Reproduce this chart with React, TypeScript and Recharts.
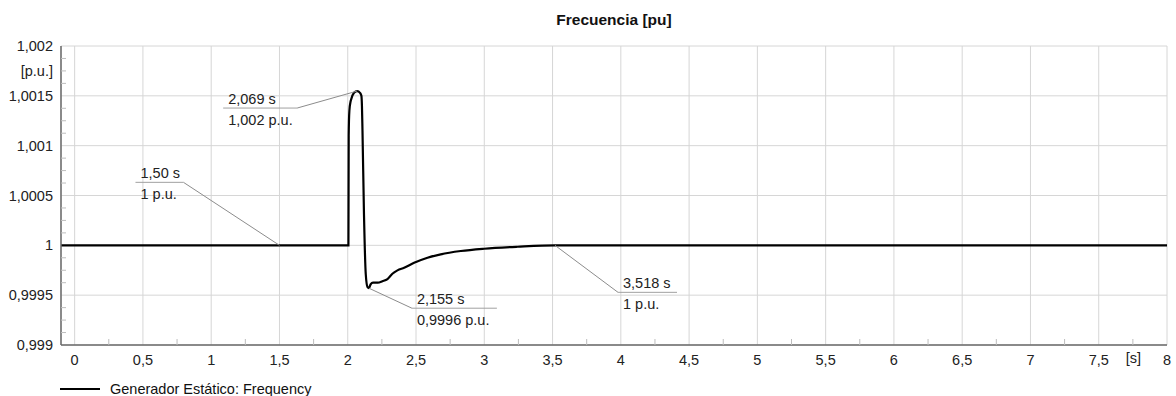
import React from 'react';
import { ComposedChart, Line, XAxis, YAxis, CartesianGrid, ReferenceDot, Legend } from 'recharts';

// ---- data ----
const timeS = [
  -0.1, 1.5, 2.0, 2.005, 2.007, 2.012, 2.022, 2.046, 2.069, 2.09, 2.1, 2.104, 2.108, 2.119, 2.132,
  2.145, 2.155, 2.168, 2.185, 2.22, 2.254, 2.291, 2.327, 2.364, 2.413, 2.486, 2.584, 2.681,
  2.828, 2.999, 3.243, 3.518, 5.0, 8.0,
];
const freqPu = [
  1.0, 1.0, 1.0, 1.0, 1.0011, 1.00135, 1.00145, 1.00153, 1.001548, 1.00153, 1.0015, 1.0014, 1.00115,
  1.00031, 0.99971, 0.99958, 0.99957, 0.99961, 0.999625, 0.999625, 0.99964, 0.999662, 0.999715,
  0.999749, 0.999775, 0.999825, 0.999876, 0.99991, 0.999943, 0.999966, 0.999986, 1.0, 1.0, 1.0,
];
const data = timeS.map((t, i) => ({ t, f: freqPu[i] }));

const xMajorTicks = [0, 0.5, 1, 1.5, 2, 2.5, 3, 3.5, 4, 4.5, 5, 5.5, 6, 6.5, 7, 7.5, 8];
const xMinorTicks = [0.25, 0.75, 1.25, 1.75, 2.25, 2.75, 3.25, 3.75, 4.25, 4.75, 5.25, 5.75, 6.25, 6.75, 7.25, 7.75];
const yMajorTicks = [0.999, 0.9995, 1, 1.0005, 1.001, 1.0015, 1.002];
const yMinorTicks = [
  0.999125, 0.99925, 0.999375, 0.999625, 0.99975, 0.999875, 1.000125, 1.00025, 1.000375,
  1.000625, 1.00075, 1.000875, 1.001125, 1.00125, 1.001375, 1.001625, 1.00175, 1.001875,
];

const annTimes = [1.5, 2.069, 2.155, 3.518];
const annValues = [1.0, 1.001548, 0.99957, 1.0];
const annTopLabels = ['1,50 s', '2,069 s', '2,155 s', '3,518 s'];
const annBottomLabels = ['1 p.u.', '1,002 p.u.', '0,9996 p.u.', '1 p.u.'];

// callout geometry (layout only)
const annLayout = [
  { dx: -96, dy: -63, len: 48, dir: -1 },
  { dx: -60, dy: 17, len: 74, dir: -1 },
  { dx: 43, dy: 20, len: 85, dir: 1 },
  { dx: 63, dy: 47, len: 59, dir: 1 },
];

const FONT = '"Liberation Sans", Arial, sans-serif';
const fmt = (v: number) => String(v).replace('.', ',');

const Callout = (props: any) => {
  const { cx, cy, idx } = props;
  if (cx == null || cy == null) return null;
  const L = annLayout[idx];
  const jx = cx + L.dx;
  const jy = cy + L.dy;
  const left = L.dir < 0 ? jx - L.len : jx;
  const right = L.dir < 0 ? jx : jx + L.len;
  return (
    <g>
      <line x1={cx} y1={cy} x2={jx} y2={jy} stroke="#8c8c8c" strokeWidth={1} />
      <line x1={left} y1={jy} x2={right} y2={jy} stroke="#a0a0a0" strokeWidth={1} />
      <text x={left + 5} y={jy - 4} fontSize={14.5} fontFamily={FONT} fill="#222">{annTopLabels[idx]}</text>
      <text x={left + 5} y={jy + 16.5} fontSize={14.5} fontFamily={FONT} fill="#222">{annBottomLabels[idx]}</text>
    </g>
  );
};

const LegendContent = () => (
  <div style={{ display: 'flex', alignItems: 'center', fontFamily: FONT, fontSize: 14.5, color: '#111' }}>
    <svg width={42} height={12} style={{ display: 'block' }}>
      <line x1={1} y1={6} x2={41} y2={6} stroke="#000" strokeWidth={2} />
    </svg>
    <span style={{ marginLeft: 9, whiteSpace: 'nowrap' }}>Generador Estático: Frequency</span>
  </div>
);

export default function App() {
  return (
    <div style={{ position: 'absolute', left: 0, top: 0, width: 1176, height: 396, background: '#fff' }}>
      <div
        style={{
          position: 'absolute', left: 61, top: 11, width: 1106, textAlign: 'center',
          fontFamily: FONT, fontWeight: 'bold', fontSize: 15.5, color: '#111',
        }}
      >
        Frecuencia [pu]
      </div>
      <ComposedChart
        width={1176}
        height={396}
        data={data}
        margin={{ top: 46, right: 9, bottom: 31, left: 0 }}
        style={{ fontFamily: FONT }}
      >
        <CartesianGrid stroke="#d6d6d6" strokeWidth={1} />
        <XAxis
          dataKey="t"
          type="number"
          domain={[-0.1, 8]}
          allowDataOverflow
          ticks={xMajorTicks}
          interval={0}
          tickFormatter={fmt}
          tickLine={false}
          tickSize={6}
          tickMargin={4}
          height={20}
          axisLine={{ stroke: '#6a6a6a', strokeWidth: 1.5 }}
          tick={{ fill: '#222', fontSize: 14.5, fontFamily: FONT }}
          label={{ value: '[s]', position: 'insideRight', offset: 26, dy: 3, fill: '#222', fontSize: 14.5, fontFamily: FONT }}
        />
        <XAxis
          xAxisId="minor"
          dataKey="t"
          type="number"
          domain={[-0.1, 8]}
          allowDataOverflow
          ticks={xMinorTicks}
          interval={0}
          mirror
          axisLine={false}
          tickSize={6}
          tickLine={{ stroke: '#bdbdbd' }}
          tickFormatter={() => ''}
          height={20}
        />
        <YAxis
          type="number"
          domain={[0.999, 1.002]}
          allowDataOverflow
          ticks={yMajorTicks}
          interval={0}
          tickFormatter={fmt}
          width={61}
          tickLine={false}
          tickSize={6}
          tickMargin={2}
          axisLine={{ stroke: '#6a6a6a', strokeWidth: 1.5 }}
          tick={{ fill: '#222', fontSize: 14.5, fontFamily: FONT }}
          label={{ value: '[p.u.]', position: 'insideTopRight', offset: 8, dy: 12, fill: '#222', fontSize: 14.5, fontFamily: FONT }}
        />
        <YAxis
          yAxisId="minor"
          type="number"
          domain={[0.999, 1.002]}
          allowDataOverflow
          ticks={yMinorTicks}
          interval={0}
          mirror
          axisLine={false}
          tickSize={5}
          tickLine={{ stroke: '#bdbdbd' }}
          tickFormatter={() => ''}
          width={61}
        />
        <Line
          type="monotone"
          dataKey="f"
          stroke="#000"
          strokeWidth={2.2}
          dot={false}
          activeDot={false}
          isAnimationActive={false}
          name="Generador Estático: Frequency"
        />
        {annTimes.map((t, i) => (
          <ReferenceDot
            key={i}
            x={t}
            y={annValues[i]}
            r={0}
            shape={(p: any) => <Callout {...p} idx={i} />}
          />
        ))}
        <Legend
          layout="horizontal"
          verticalAlign="middle"
          align="center"
          content={<LegendContent />}
          wrapperStyle={{ top: 381, left: 59, width: 'auto' }}
        />
      </ComposedChart>
    </div>
  );
}
